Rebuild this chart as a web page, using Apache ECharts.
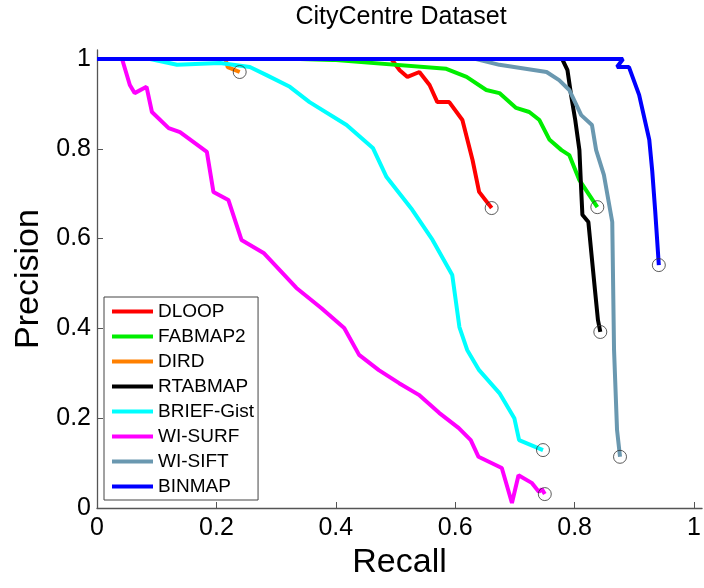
<!DOCTYPE html>
<html>
<head>
<meta charset="utf-8">
<script src="https://cdn.jsdelivr.net/npm/echarts@6/dist/echarts.min.js"></script>
<style>
  html, body { margin: 0; padding: 0; background: #fff; }
  #main { width: 704px; height: 588px; }
</style>
</head>
<body>
<div id="main"></div>
<script>
// recall / precision pairs
const dloop = [[0, 1], [0.493, 1], [0.507, 0.975], [0.52, 0.96], [0.54, 0.971], [0.557, 0.942],
  [0.57, 0.904], [0.59, 0.904], [0.612, 0.864], [0.629, 0.775], [0.64, 0.704], [0.657, 0.675], [0.661, 0.668]]
const fabmap2 = [[0, 1], [0.34, 1], [0.395, 0.998], [0.585, 0.978], [0.619, 0.96], [0.652, 0.931],
  [0.674, 0.924], [0.702, 0.891], [0.724, 0.882], [0.741, 0.864], [0.758, 0.82], [0.778, 0.797],
  [0.791, 0.786], [0.808, 0.73], [0.838, 0.67]]
const dird = [[0, 1], [0.215, 1], [0.219, 0.982], [0.239, 0.971]]
const rtabmap = [[0, 1], [0.779, 1], [0.788, 0.975], [0.794, 0.92], [0.801, 0.864], [0.808, 0.797],
  [0.811, 0.708], [0.813, 0.653], [0.823, 0.637], [0.828, 0.568], [0.834, 0.486], [0.839, 0.419], [0.843, 0.392]]
const briefGist = [[0, 1], [0.089, 1], [0.134, 0.987], [0.206, 0.991], [0.256, 0.982], [0.284, 0.964],
  [0.323, 0.938], [0.356, 0.904], [0.418, 0.853], [0.462, 0.802], [0.485, 0.737], [0.528, 0.664],
  [0.562, 0.597], [0.595, 0.519], [0.607, 0.403], [0.62, 0.352], [0.64, 0.307], [0.674, 0.256],
  [0.699, 0.2], [0.707, 0.151], [0.747, 0.129]]
const wiSurf = [[0.042, 1], [0.055, 0.942], [0.063, 0.924], [0.083, 0.938], [0.092, 0.882], [0.12, 0.846],
  [0.139, 0.837], [0.184, 0.793], [0.195, 0.704], [0.22, 0.686], [0.242, 0.597], [0.279, 0.568],
  [0.334, 0.49], [0.376, 0.445], [0.414, 0.401], [0.439, 0.341], [0.472, 0.307], [0.506, 0.278],
  [0.539, 0.252], [0.573, 0.212], [0.606, 0.178], [0.626, 0.151], [0.639, 0.114], [0.678, 0.089],
  [0.695, 0.011], [0.706, 0.073], [0.728, 0.056], [0.74, 0.036], [0.745, 0.042], [0.75, 0.031]]
const wiSift = [[0, 1], [0.635, 1], [0.674, 0.987], [0.753, 0.971], [0.774, 0.953], [0.791, 0.931],
  [0.811, 0.875], [0.829, 0.853], [0.836, 0.797], [0.849, 0.742], [0.863, 0.637], [0.866, 0.352],
  [0.871, 0.174], [0.876, 0.114]]
const binmap = [[0, 1], [0.881, 1], [0.871, 0.982], [0.891, 0.982], [0.908, 0.92], [0.925, 0.82],
  [0.93, 0.75], [0.935, 0.66], [0.941, 0.541]]

const names = ['DLOOP', 'FABMAP2', 'DIRD', 'RTABMAP', 'BRIEF-Gist', 'WI-SURF', 'WI-SIFT', 'BINMAP']
const curves = [dloop, fabmap2, dird, rtabmap, briefGist, wiSurf, wiSift, binmap]
const colors = ['#ff0000', '#00ee00', '#ff8000', '#000000', '#00ffff', '#ff00ff', '#6a98b0', '#0000ff']
const ticks = [0, 0.2, 0.4, 0.6, 0.8, 1]

const font = 'Liberation Sans, Arial, Helvetica, sans-serif'
const axisColor = '#555'

const series = curves.map((d, i) => ({
  name: names[i],
  type: 'line',
  data: d,
  symbol: 'none',
  lineStyle: { color: colors[i], width: 4 },
  itemStyle: { color: colors[i] },
  z: 2 + i
}))

// end point circles
series.push({
  name: 'ends',
  type: 'scatter',
  data: curves.map(d => d[d.length - 1]),
  symbol: 'circle',
  symbolSize: 13,
  itemStyle: { color: 'rgba(0,0,0,0)', borderColor: '#333', borderWidth: 1 },
  z: 20,
  silent: true
})

const chart = echarts.init(document.getElementById('main'))
chart.setOption({
  animation: false,
  backgroundColor: '#fff',
  graphic: [{
    type: 'text',
    x: 401, y: 17,
    style: { text: 'CityCentre Dataset', font: '25px ' + font, fill: '#000', align: 'center', verticalAlign: 'middle' }
  }],
  grid: { left: 97, right: 0, top: 50, bottom: 80 },
  xAxis: {
    type: 'value',
    min: 0, max: 1.0134,
    name: 'Recall',
    nameLocation: 'middle',
    nameGap: 36,
    nameTextStyle: { fontSize: 34, fontFamily: font, color: '#000' },
    axisLine: { show: true, lineStyle: { color: axisColor, width: 1.3 } },
    axisTick: { inside: true, length: 6, customValues: ticks, lineStyle: { color: axisColor } },
    axisLabel: { customValues: ticks, fontSize: 25, fontFamily: font, color: '#000', margin: 8 },
    splitLine: { show: false }
  },
  yAxis: {
    type: 'value',
    min: 0, max: 1.02,
    name: 'Precision',
    nameLocation: 'middle',
    nameGap: 50,
    nameTextStyle: { fontSize: 34, fontFamily: font, color: '#000' },
    axisLine: { show: true, lineStyle: { color: axisColor, width: 1.3 } },
    axisTick: { inside: true, length: 6, customValues: ticks, lineStyle: { color: axisColor } },
    axisLabel: { customValues: ticks, fontSize: 25, fontFamily: font, color: '#000', margin: 6 },
    splitLine: { show: false }
  },
  legend: {
    data: names,
    orient: 'vertical',
    left: 104,
    top: 297,
    icon: 'rect',
    itemWidth: 41,
    itemHeight: 4,
    itemGap: 6,
    padding: [5, 4, 4, 8],
    backgroundColor: '#fff',
    borderColor: '#444',
    borderWidth: 1,
    textStyle: { fontSize: 19, fontFamily: font, color: '#000' }
  },
  series: series
})
</script>
</body>
</html>
